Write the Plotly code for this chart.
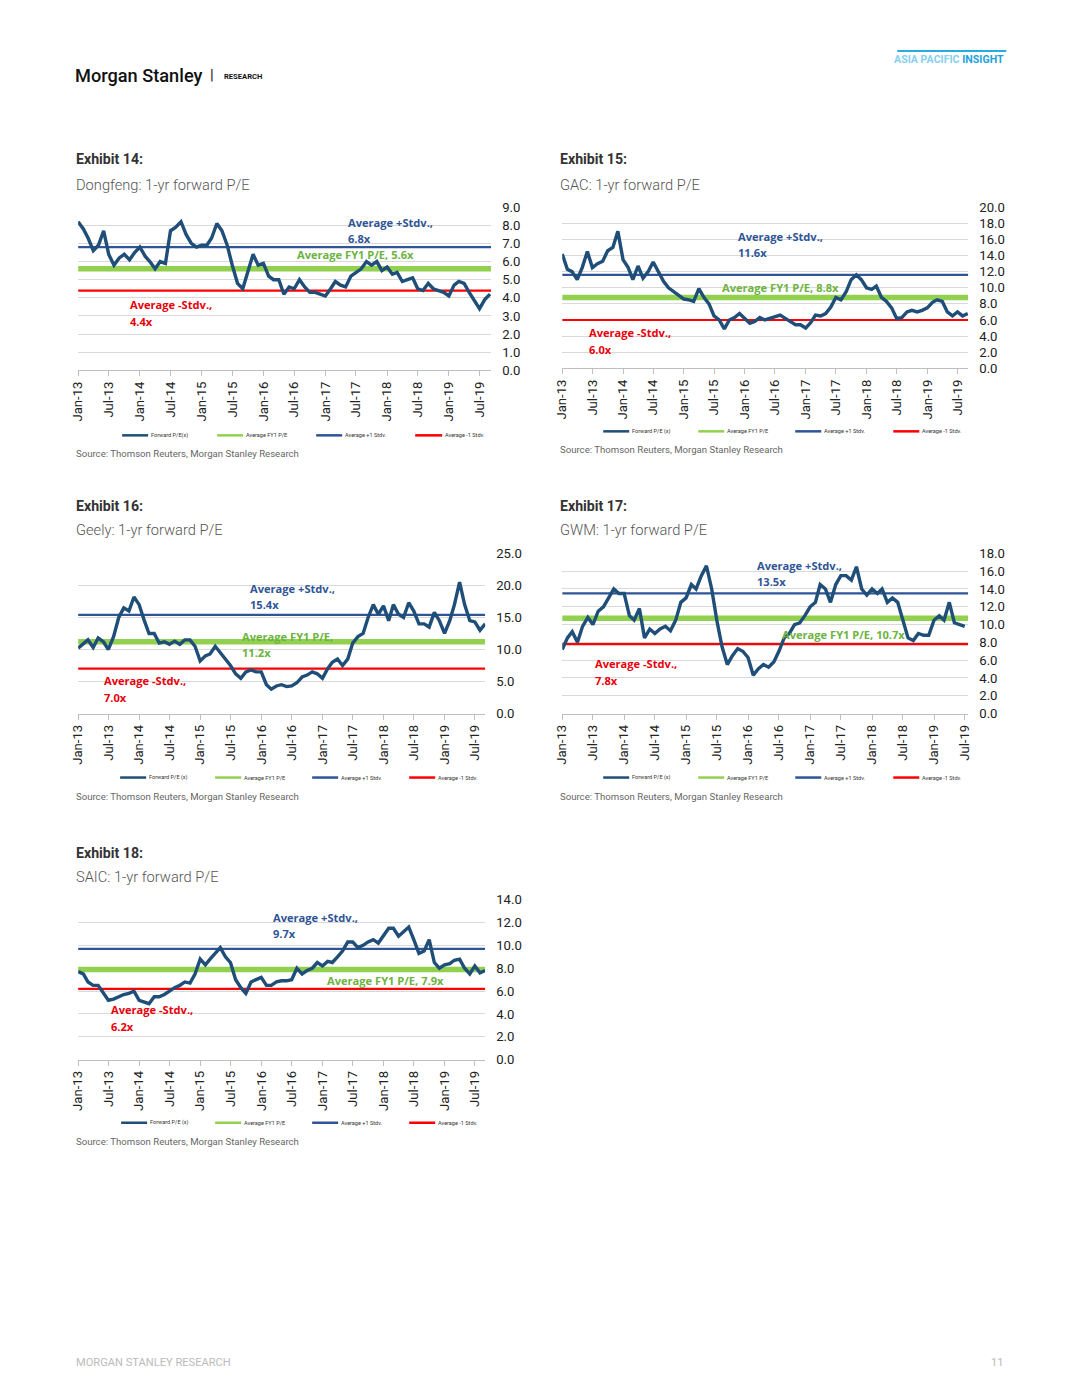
import pandas as pd
import plotly.graph_objects as go

W, H = 1080, 1398

# ---------------- data ----------------
tick_labels = ["Jan-13", "Jul-13", "Jan-14", "Jul-14", "Jan-15", "Jul-15", "Jan-16",
               "Jul-16", "Jan-17", "Jul-17", "Jan-18", "Jul-18", "Jan-19", "Jul-19"]
tick_dates = ["2013-01-01", "2013-07-01", "2014-01-01", "2014-07-01", "2015-01-01",
              "2015-07-01", "2016-01-01", "2016-07-01", "2017-01-01", "2017-07-01",
              "2018-01-01", "2018-07-01", "2019-01-01", "2019-07-01"]

dongfeng_pe = [8.2, 7.8, 7.3, 6.6, 6.9, 7.7, 6.4, 5.8, 6.2, 6.4, 6.1, 6.5,
               6.8, 6.3, 6.0, 5.6, 6.0, 5.9, 7.7, 7.9, 8.2, 7.5, 7.0, 6.8,
               6.9, 6.9, 7.3, 8.1, 7.7, 6.9, 5.8, 4.8, 4.5, 5.5, 6.4, 5.8,
               5.9, 5.2, 5.0, 5.0, 4.2, 4.6, 4.5, 5.0, 4.6, 4.3, 4.3, 4.2,
               4.1, 4.5, 4.9, 4.7, 4.6, 5.2, 5.4, 5.6, 6.0, 5.8, 6.0, 5.5,
               5.7, 5.3, 5.4, 4.9, 5.0, 5.1, 4.5, 4.4, 4.8, 4.5, 4.4, 4.3,
               4.1, 4.7, 4.9, 4.8, 4.3, 3.8, 3.4, 3.9, 4.2]
dongfeng_avg, dongfeng_plus, dongfeng_minus = 5.6, 6.8, 4.4

gac_pe = [14.2, 12.3, 12.0, 11.0, 12.5, 14.5, 12.5, 13.0, 13.3, 14.6, 15.0, 17.0,
          13.5, 12.5, 11.0, 12.7, 11.2, 12.0, 13.2, 12.0, 10.8, 10.0, 9.5, 9.0,
          8.6, 8.5, 8.3, 9.9, 8.8, 8.0, 6.5, 6.0, 4.9, 6.0, 6.3, 6.8,
          6.2, 5.6, 5.8, 6.3, 6.0, 6.2, 6.3, 6.6, 6.2, 5.8, 5.4, 5.4,
          5.0, 5.7, 6.6, 6.5, 6.8, 7.6, 8.8, 8.5, 9.5, 11.0, 11.6, 11.0,
          10.0, 9.8, 10.2, 8.8, 8.3, 7.5, 6.2, 6.3, 7.0, 7.2, 7.0, 7.2,
          7.5, 8.2, 8.5, 8.3, 7.0, 6.5, 7.0, 6.5, 6.8]
gac_avg, gac_plus, gac_minus = 8.8, 11.6, 6.0

geely_pe = [10.2, 10.8, 11.5, 10.3, 11.8, 11.2, 10.0, 12.0, 15.0, 16.5, 16.0, 18.2,
            17.0, 14.5, 12.5, 12.5, 11.0, 11.2, 10.8, 11.3, 10.8, 11.5, 11.5, 10.5,
            8.2, 9.0, 9.3, 10.5, 9.5, 8.5, 7.5, 6.2, 5.5, 6.5, 6.8, 6.5,
            6.5, 4.5, 3.8, 4.3, 4.5, 4.2, 4.3, 4.8, 5.7, 6.0, 6.5, 6.2,
            5.5, 7.0, 8.0, 8.5, 7.5, 8.5, 11.0, 12.0, 12.5, 15.0, 17.0, 15.5,
            16.8, 14.5, 17.0, 15.5, 15.0, 17.3, 16.0, 14.0, 14.0, 13.5, 15.8, 14.5,
            12.5, 14.5, 17.0, 20.5, 17.0, 14.5, 14.3, 13.0, 14.0]
geely_avg, geely_plus, geely_minus = 11.2, 15.4, 7.0

gwm_pe = [7.2, 8.5, 9.2, 8.0, 9.8, 10.8, 10.0, 11.5, 12.0, 13.0, 14.0, 13.5,
          13.5, 11.0, 10.5, 11.8, 8.5, 9.5, 9.0, 9.5, 9.8, 9.3, 10.5, 12.5,
          13.0, 14.5, 14.0, 15.5, 16.6, 14.0, 10.5, 7.5, 5.5, 6.5, 7.3, 7.0,
          6.3, 4.3, 5.0, 5.5, 5.2, 5.8, 7.0, 8.5, 9.0, 10.0, 10.2, 11.0,
          12.0, 12.5, 14.5, 14.0, 12.5, 14.5, 15.5, 15.5, 15.0, 16.5, 14.0, 13.3,
          14.0, 13.5, 14.0, 12.5, 13.0, 12.5, 10.5, 8.5, 8.2, 9.0, 8.8, 8.8,
          10.5, 11.0, 10.5, 12.5, 10.2, 10.0, 9.8]
gwm_avg, gwm_plus, gwm_minus = 10.7, 13.5, 7.8

saic_pe = [7.7, 7.5, 6.8, 6.5, 6.5, 5.8, 5.2, 5.3, 5.5, 5.7, 5.8, 6.0,
           5.2, 5.0, 4.9, 5.5, 5.5, 5.7, 6.0, 6.3, 6.5, 6.8, 6.7, 7.5,
           8.8, 8.3, 8.8, 9.3, 9.8, 9.0, 8.5, 7.0, 6.3, 5.8, 6.8, 7.0,
           7.2, 6.5, 6.5, 6.8, 6.9, 6.9, 7.0, 8.0, 7.5, 7.8, 8.0, 8.5,
           8.2, 8.6, 8.5, 9.0, 9.5, 10.3, 10.3, 9.8, 10.0, 10.3, 10.5, 10.2,
           10.8, 11.5, 11.5, 10.8, 11.2, 11.6, 10.5, 9.3, 9.5, 10.5, 8.5, 8.0,
           8.3, 8.4, 8.7, 8.8, 8.0, 7.5, 8.2, 7.6, 7.8]
saic_avg, saic_plus, saic_minus = 7.9, 9.7, 6.2

legend_names = ["Forward P/E (x)", "Average FY1 P/E", "Average +1 Stdv.", "Average -1 Stdv."]

# ---------------- styles ----------------
C_LINE = "#1F4E79"
C_BLUE = "#2F5597"
C_GREEN = "#92D050"
C_RED = "#FF0000"
C_GREEN_TXT = "#6CB33F"
FONT = "Roboto"

# the viewer frames the page with an 8px border and scales it back to 1080x1398
S = 1398 / 1414
OFF = 8


def px(x):
    return (x / S - OFF) / W


def py(y):
    return 1 - (y / S - OFF) / H


def fs(v):
    return v / S


charts = [
    dict(ex="Exhibit 14:", sub="Dongfeng: 1-yr forward P/E", vals=dongfeng_pe,
         avg=dongfeng_avg, plus=dongfeng_plus, minus=dongfeng_minus,
         box=(78, 491, 208, 371), ymax=9, dtick=1, end="2019-09-08",
         title_xy=(74, 160, 186), legend_y=436, source_y=454, first_leg="Forward P/E(x)",
         leg_x=[(122, 148), (217, 243), (316, 342), (415, 442)],
         plus_xy=(346, 223), avg_xy=(295, 255), minus_xy=(128, 305), avg_two=False),
    dict(ex="Exhibit 15:", sub="GAC: 1-yr forward P/E", vals=gac_pe,
         avg=gac_avg, plus=gac_plus, minus=gac_minus,
         box=(562, 968, 208, 369), ymax=20, dtick=2, end="2019-09-04",
         title_xy=(558, 160, 186), legend_y=432, source_y=450, first_leg="Forward P/E (x)",
         leg_x=[(603, 629), (698, 724), (795, 821), (893, 919)],
         plus_xy=(736, 237), avg_xy=(720, 288), minus_xy=(587, 333), avg_two=False),
    dict(ex="Exhibit 16:", sub="Geely: 1-yr forward P/E", vals=geely_pe,
         avg=geely_avg, plus=geely_plus, minus=geely_minus,
         box=(78, 485, 554, 714), ymax=25, dtick=5, end="2019-09-01",
         title_xy=(74, 507, 531), legend_y=778, source_y=797, first_leg="Forward P/E (x)",
         leg_x=[(120, 146), (215, 241), (312, 338), (409, 435)],
         plus_xy=(248, 589), avg_xy=(240, 637), minus_xy=(102, 681), avg_two=True),
    dict(ex="Exhibit 17:", sub="GWM: 1-yr forward P/E", vals=gwm_pe,
         avg=gwm_avg, plus=gwm_plus, minus=gwm_minus,
         box=(562, 968, 554, 714), ymax=18, dtick=2, end="2019-07-22",
         title_xy=(558, 507, 531), legend_y=778, source_y=797, first_leg="Forward P/E (x)",
         leg_x=[(603, 629), (698, 724), (795, 821), (893, 919)],
         plus_xy=(755, 566), avg_xy=(780, 635), minus_xy=(593, 664), avg_two=False),
    dict(ex="Exhibit 18:", sub="SAIC: 1-yr forward P/E", vals=saic_pe,
         avg=saic_avg, plus=saic_plus, minus=saic_minus,
         box=(78, 485, 900, 1060), ymax=14, dtick=2, end="2019-09-01",
         title_xy=(74, 853, 877), legend_y=1123, source_y=1142, first_leg="Forward P/E (x)",
         leg_x=[(121, 147), (215, 241), (312, 338), (409, 435)],
         plus_xy=(271, 918), avg_xy=(325, 981), minus_xy=(109, 1010), avg_two=False),
]

fig = go.Figure()
annotations = []
shapes = []
layout_axes = {}


def text(x, y, s, size, color, bold=False, anchor="left", weight=None, family=FONT):
    f = dict(family=family, size=fs(size), color=color)
    if weight is not None:
        f["weight"] = weight
    elif bold:
        f["weight"] = "bold"
    annotations.append(dict(x=px(x), y=py(y), xref="paper", yref="paper", text=s,
                            showarrow=False, xanchor=anchor, yanchor="middle", font=f))


for i, c in enumerate(charts, start=1):
    xa = "x" if i == 1 else f"x{i}"
    ya = "y" if i == 1 else f"y{i}"
    x0, x1, ytop, ybot = c["box"]
    dates = pd.date_range("2013-01-01", periods=len(c["vals"]), freq="MS")
    xr = ["2013-01-01", c["end"]]

    # reference lines
    for val, col, wid in [(c["avg"], C_GREEN, 5.5), (c["plus"], C_BLUE, 2.2), (c["minus"], C_RED, 2.2)]:
        fig.add_trace(go.Scatter(x=xr, y=[val, val], mode="lines", xaxis=xa, yaxis=ya,
                                 line=dict(color=col, width=wid), showlegend=False, hoverinfo="skip"))
    fig.add_trace(go.Scatter(x=dates, y=c["vals"], mode="lines", xaxis=xa, yaxis=ya,
                             line=dict(color=C_LINE, width=3.4), showlegend=False))

    layout_axes["xaxis" if i == 1 else f"xaxis{i}"] = dict(
        domain=[px(x0), px(x1)], anchor=ya, type="date", range=xr,
        tickmode="array", tickvals=tick_dates, ticktext=tick_labels, tickangle=-90,
        ticks="outside", ticklen=5, tickcolor="#BFBFBF", showline=True, linecolor="#BFBFBF",
        linewidth=1, showgrid=False, zeroline=False,
        tickfont=dict(family=FONT, size=fs(13), color="#222222"))
    layout_axes["yaxis" if i == 1 else f"yaxis{i}"] = dict(
        domain=[py(ybot), py(ytop)], anchor=xa, side="right", range=[0, c["ymax"]],
        dtick=c["dtick"], tick0=0, tickformat=".1f", showgrid=True, gridcolor="#D9D9D9",
        gridwidth=1, showline=False, zeroline=False, ticks="", ticklabelstandoff=10,
        tickfont=dict(family=FONT, size=fs(13), color="#222222"))

    # titles
    tx, ty1, ty2 = c["title_xy"]
    text(tx, ty1, c["ex"], 14, "#333333", bold=True)
    text(tx, ty2, c["sub"], 14.5, "#555555", weight=300)
    text(tx, c["source_y"], "Source: Thomson Reuters, Morgan Stanley Research", 9.5, "#666666")

    # in-chart labels
    bx, by = c["plus_xy"]
    text(bx, by, "Average +Stdv.,", 11, C_BLUE, bold=True, family="Open Sans")
    text(bx, by + 16, f"{c['plus']:.1f}x", 11, C_BLUE, bold=True, family="Open Sans")
    gx, gy = c["avg_xy"]
    if c["avg_two"]:
        text(gx, gy, "Average FY1 P/E,", 11, C_GREEN_TXT, bold=True, family="Open Sans")
        text(gx, gy + 16, f"{c['avg']:.1f}x", 11, C_GREEN_TXT, bold=True, family="Open Sans")
    else:
        text(gx, gy, f"Average FY1 P/E, {c['avg']:.1f}x", 11, C_GREEN_TXT, bold=True, family="Open Sans")
    rx, ry = c["minus_xy"]
    text(rx, ry, "Average -Stdv.,", 11, "#E8000B", bold=True, family="Open Sans")
    text(rx, ry + 17, f"{c['minus']:.1f}x", 11, "#E8000B", bold=True, family="Open Sans")

    # custom legend
    names = [c["first_leg"]] + legend_names[1:]
    for (lx0, lx1), nm, col in zip(c["leg_x"], names, [C_LINE, C_GREEN, C_BLUE, C_RED]):
        shapes.append(dict(type="line", xref="paper", yref="paper", x0=px(lx0), x1=px(lx1),
                           y0=py(c["legend_y"]), y1=py(c["legend_y"]),
                           line=dict(color=col, width=2.5)))
        text(lx1 + 1, c["legend_y"], nm, 5.5, "#333333")

# header / footer
text(73, 76, "Morgan Stanley", 18, "#111111", weight=500)
text(208, 76, "|", 15, "#111111")
text(222, 77, "RESEARCH", 7.5, "#111111", bold=True)
shapes.append(dict(type="line", xref="paper", yref="paper", x0=px(897), x1=px(1006),
                   y0=py(52), y1=py(52), line=dict(color="#29ABE2", width=2)))
annotations.append(dict(x=px(1006), y=py(60), xref="paper", yref="paper", showarrow=False,
                        xanchor="right", yanchor="middle",
                        text="<span style='color:#86CFEF'>ASIA PACIFIC </span><span style='color:#1EA2DC'>INSIGHT</span>",
                        font=dict(family="Roboto", size=fs(10.5), weight="bold")))
text(74, 1363, "MORGAN STANLEY RESEARCH", 11, "#BBBBBB")
text(1006, 1363, "11", 11, "#BBBBBB", anchor="right")

fig.update_layout(width=W, height=H, margin=dict(l=0, r=0, t=0, b=0),
                  paper_bgcolor="white", plot_bgcolor="white", showlegend=False,
                  annotations=annotations, shapes=shapes, **layout_axes)

fig.write_html("out.html", config={"displayModeBar": False},
               post_script="document.body.style.margin='0';document.body.style.padding='0';"
                           "document.documentElement.style.overflow='hidden';")
